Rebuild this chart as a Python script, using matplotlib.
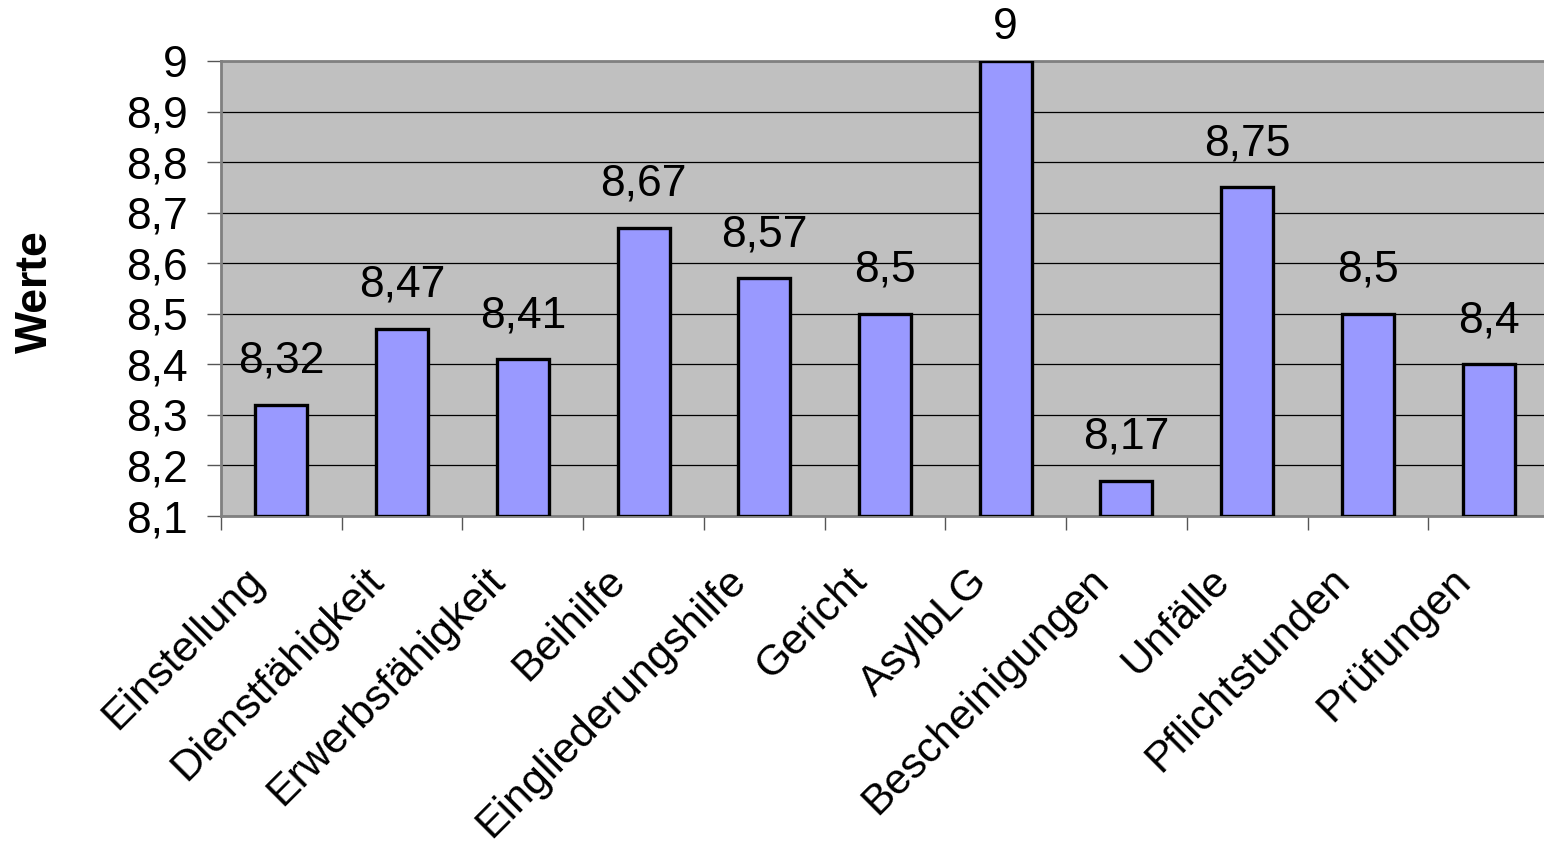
import numpy as np
import matplotlib
matplotlib.use("Agg")
import matplotlib.pyplot as plt
import matplotlib.transforms as mtransforms
from matplotlib.ticker import FixedLocator, NullFormatter, FuncFormatter

plt.rcParams['font.family'] = ['Liberation Sans', 'DejaVu Sans']

categories = ['Einstellung', 'Dienstfähigkeit', 'Erwerbsfähigkeit', 'Beihilfe',
              'Eingliederungshilfe', 'Gericht', 'AsylbLG', 'Bescheinigungen',
              'Unfälle', 'Pflichtstunden', 'Prüfungen']
values = [8.32, 8.47, 8.41, 8.67, 8.57, 8.5, 9.0, 8.17, 8.75, 8.5, 8.4]
y_ticks = [8.1, 8.2, 8.3, 8.4, 8.5, 8.6, 8.7, 8.8, 8.9, 9.0]

y_min, y_max = 8.1, 9.0
FS = 32


def de_num(v, pos=None):
    return ('%g' % round(v, 2)).replace('.', ',')


fig = plt.figure(figsize=(15.44, 8.43), dpi=100)
ax = fig.add_axes([221 / 1544, 1 - 516 / 843, 1328 / 1544, 455 / 843])
ax.set_facecolor('#C0C0C0')

x = np.arange(len(categories))
heights = np.array(values) - y_min
ax.bar(x, heights, bottom=y_min, width=0.43, color='#9999FF',
       edgecolor='black', linewidth=2.4, zorder=3)

for xi, v in zip(x, values):
    # label at the very top is pulled down a bit so it stays in the picture
    off = 16 if v >= y_max else 23
    ax.annotate(de_num(v), (xi, v), xytext=(0, off), textcoords='offset points',
                ha='center', va='baseline', fontsize=FS, annotation_clip=False)

ax.set_xlim(-0.5, len(categories) - 0.5)
ax.set_ylim(y_min, y_max)

ax.yaxis.set_major_locator(FixedLocator(y_ticks))
ax.yaxis.set_major_formatter(FuncFormatter(de_num))
ax.yaxis.grid(True, color='black', linewidth=0.9, zorder=1)
ax.set_axisbelow(True)
ax.tick_params(axis='y', direction='out', length=10, width=1, color='#555555',
               labelsize=FS, pad=14)

# ticks at category borders, labels at category centres
ax.xaxis.set_major_locator(FixedLocator(np.arange(-0.5, len(categories) + 0.5, 1)))
ax.xaxis.set_major_formatter(NullFormatter())
ax.xaxis.set_minor_locator(FixedLocator(x))
ax.set_xticklabels(categories, minor=True, rotation=45, ha='right', va='top',
                   fontsize=31)
ax.tick_params(axis='x', which='major', direction='out', length=10, width=1,
               color='#555555')
ax.tick_params(axis='x', which='minor', length=0, pad=32)
shift = mtransforms.ScaledTranslation(-7 / 72, 0, fig.dpi_scale_trans)
for lbl in ax.get_xticklabels(minor=True):
    lbl.set_transform(lbl.get_transform() + shift)

for side in ['left', 'bottom', 'top']:
    ax.spines[side].set_color('#808080')
    ax.spines[side].set_linewidth(2)
ax.spines['right'].set_visible(False)

fig.text(35 / 1544, 1 - 292 / 843, 'Werte', rotation=90, ha='center',
         va='center', fontsize=FS, fontweight='bold')

fig.savefig('out.png', dpi=100)
